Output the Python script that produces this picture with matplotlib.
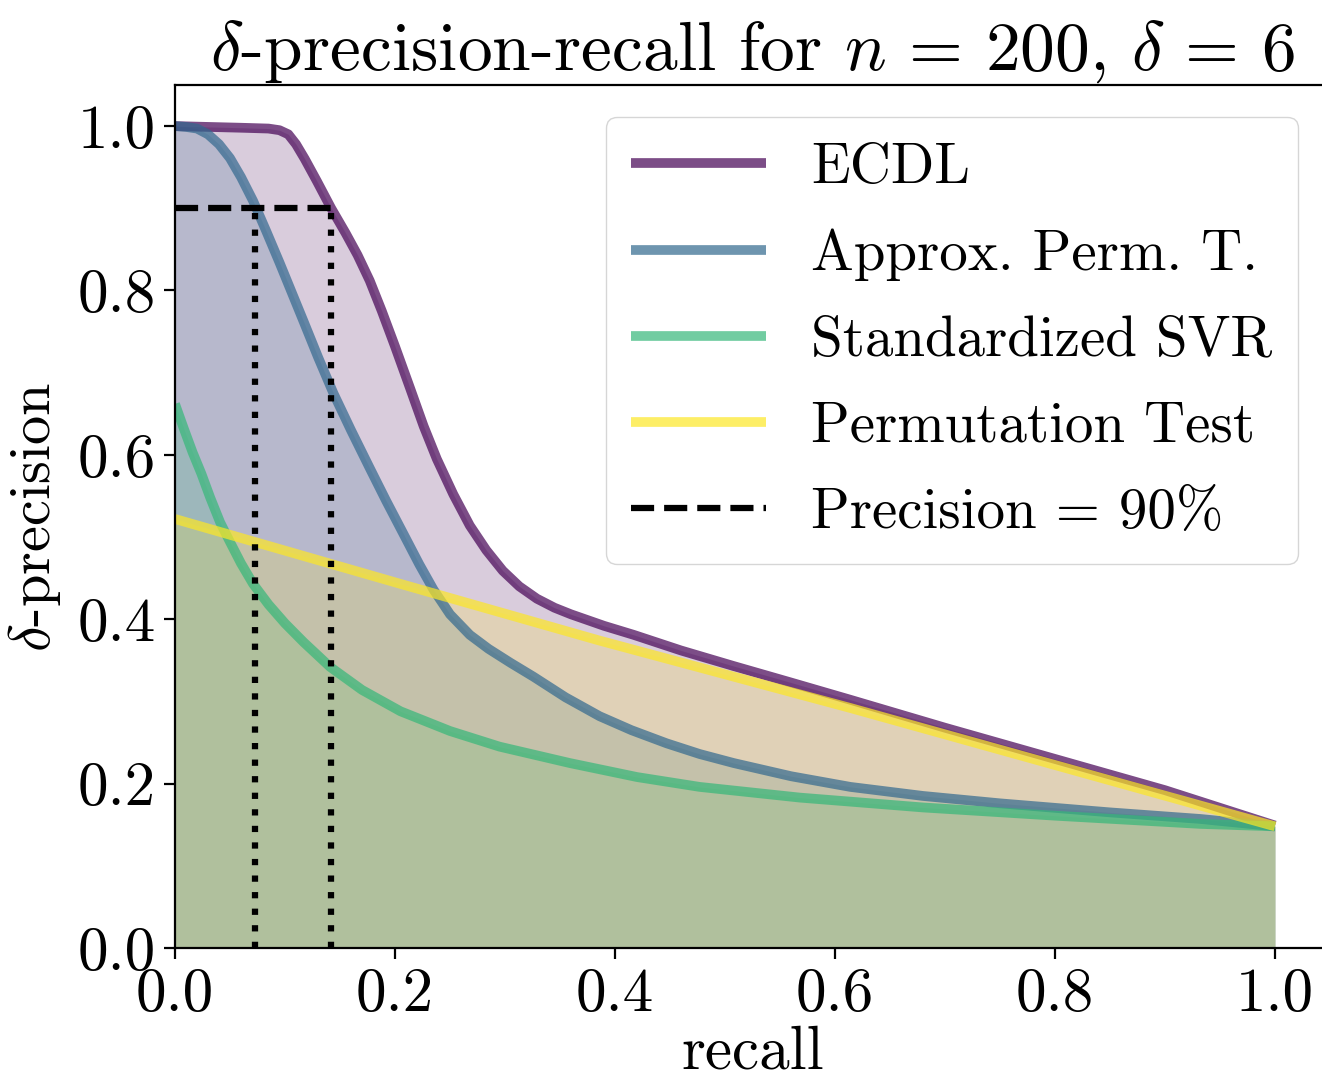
import matplotlib
matplotlib.use("Agg")
import matplotlib.pyplot as plt

# Curves: recall (x) vs delta-precision (y) for each method
ecdl_recall = [0.0, 0.03, 0.06, 0.085, 0.095, 0.103, 0.110, 0.118, 0.129, 0.142,
               0.155, 0.166, 0.177, 0.188, 0.200, 0.214, 0.226, 0.238, 0.253,
               0.268, 0.283, 0.298, 0.313, 0.329, 0.345, 0.360, 0.390, 0.417,
               0.460, 0.508, 0.560, 0.614, 0.700, 0.800, 0.900, 1.0]
ecdl_prec = [1.0, 0.999, 0.998, 0.997, 0.995, 0.990, 0.978, 0.960, 0.933, 0.900,
             0.870, 0.843, 0.812, 0.775, 0.732, 0.680, 0.635, 0.595, 0.552,
             0.514, 0.484, 0.459, 0.440, 0.425, 0.414, 0.406, 0.392, 0.381,
             0.362, 0.343, 0.323, 0.302, 0.268, 0.230, 0.192, 0.149]

apt_recall = [0.0, 0.01, 0.02, 0.03, 0.04, 0.05, 0.06, 0.071, 0.083, 0.095,
              0.106, 0.117, 0.130, 0.144, 0.160, 0.177, 0.192, 0.208, 0.222,
              0.235, 0.250, 0.268, 0.285, 0.305, 0.326, 0.355, 0.386, 0.415,
              0.447, 0.477, 0.508, 0.560, 0.614, 0.680, 0.750, 0.850, 0.932, 1.0]
apt_prec = [1.0, 0.999, 0.997, 0.990, 0.978, 0.961, 0.938, 0.909, 0.872, 0.834,
            0.798, 0.762, 0.719, 0.675, 0.630, 0.584, 0.544, 0.503, 0.467,
            0.436, 0.406, 0.381, 0.364, 0.347, 0.330, 0.305, 0.282, 0.265,
            0.249, 0.236, 0.225, 0.209, 0.196, 0.185, 0.176, 0.165, 0.157, 0.148]

svr_recall = [0.0, 0.008, 0.016, 0.024, 0.032, 0.041, 0.05, 0.06, 0.071, 0.085,
              0.10, 0.117, 0.141, 0.17, 0.205, 0.25, 0.295, 0.359, 0.42, 0.477,
              0.568, 0.68, 0.8, 0.932, 1.0]
svr_prec = [0.662, 0.632, 0.603, 0.577, 0.548, 0.518, 0.494, 0.468, 0.443, 0.418,
            0.395, 0.372, 0.342, 0.314, 0.288, 0.264, 0.245, 0.225, 0.208, 0.196,
            0.183, 0.171, 0.161, 0.151, 0.148]

perm_recall = [0.0, 0.205, 0.386, 0.614, 1.0]
perm_prec = [0.522, 0.443, 0.374, 0.292, 0.148]

labels = ["ECDL", "Approx. Perm. T.", "Standardized SVR", "Permutation Test"]
colors = ["#440154", "#31688e", "#35b779", "#fde725"]

# Recall reached at 90% precision
target_precision = 0.9
recall_at_target = [0.073, 0.142]

xticks = [0.0, 0.2, 0.4, 0.6, 0.8, 1.0]
yticks = [0.0, 0.2, 0.4, 0.6, 0.8, 1.0]
tick_labels = ["0.0", "0.2", "0.4", "0.6", "0.8", "1.0"]

plt.rcParams["font.family"] = ["cmr10", "DejaVu Serif"]
plt.rcParams["mathtext.fontset"] = "cm"
plt.rcParams["axes.unicode_minus"] = False
plt.rcParams["axes.formatter.use_mathtext"] = True

fig = plt.figure(figsize=(13.22, 10.86), dpi=100)
ax = fig.add_axes([175 / 1322, 138 / 1086, 1155 / 1322, 863 / 1086])

series = [(ecdl_recall, ecdl_prec), (apt_recall, apt_prec),
          (svr_recall, svr_prec), (perm_recall, perm_prec)]
for (x, y), lab, c in zip(series, labels, colors):
    ax.fill_between(x, 0, y, color=c, alpha=0.2, linewidth=0)
    ax.plot(x, y, color=c, alpha=0.7, lw=7, label=lab,
            solid_joinstyle="round", solid_capstyle="butt")

ax.plot([0, max(recall_at_target)], [target_precision, target_precision],
        color="k", ls="--", lw=4.5, label="Precision = 90%")
for r in recall_at_target:
    ax.plot([r, r], [0, target_precision], color="k", ls=":", lw=4.5)

ax.set_xlim(0, 1.05)
ax.set_ylim(0, 1.05)
ax.set_xticks(xticks)
ax.set_xticklabels(tick_labels)
ax.set_yticks(yticks)
ax.set_yticklabels(tick_labels)
ax.tick_params(labelsize=44, length=8, width=1.6, pad=6)
for s in ax.spines.values():
    s.set_linewidth(1.6)

ax.set_xlabel("recall", fontsize=44, labelpad=2)
ax.set_ylabel(r"$\delta$-precision", fontsize=42, labelpad=10)
ax.set_title(r"$\delta$-precision-recall for $n\,=\,200$, $\delta\,=\,6$",
             fontsize=50, pad=10)

leg = ax.legend(loc="upper right", fontsize=41, handlelength=2.37,
                handletextpad=0.79, labelspacing=0.61, borderpad=0.45,
                borderaxespad=0.56)

fig.savefig("out.png", dpi=100)
